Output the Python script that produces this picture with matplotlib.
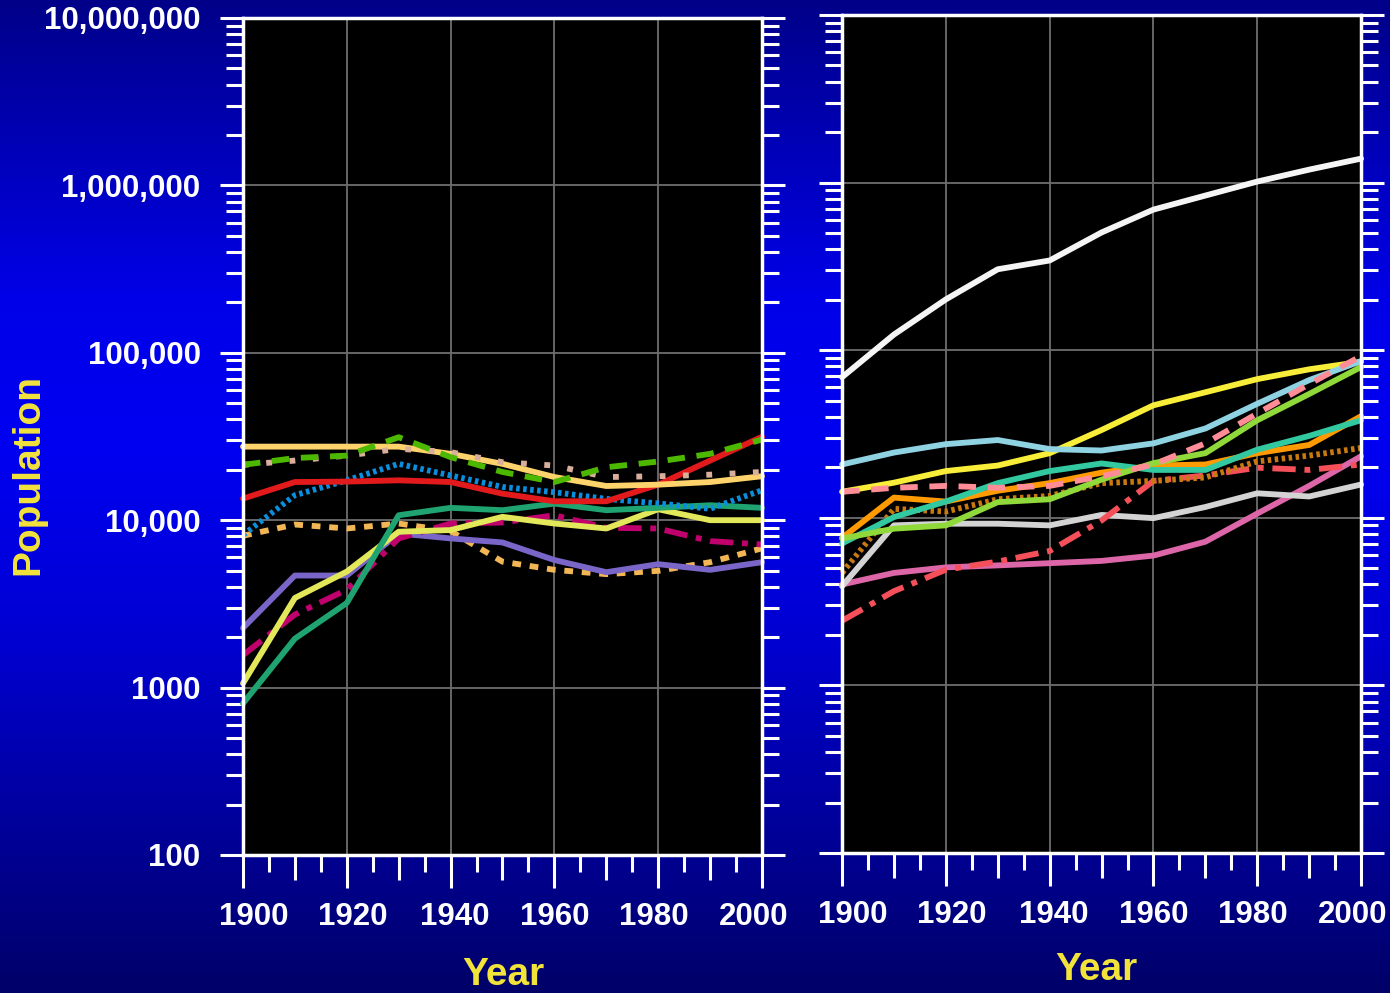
import numpy as np
import matplotlib.pyplot as plt
from matplotlib.ticker import FixedLocator, LogLocator, NullFormatter
from matplotlib.transforms import ScaledTranslation

plt.rcParams['font.family'] = ['Liberation Sans', 'DejaVu Sans']

years = [1900, 1910, 1920, 1930, 1940, 1950, 1960, 1970, 1980, 1990, 2000]

# left panel series
left_gold = [27500, 27500, 27500, 27500, 24900, 21700, 18100, 16000, 16300, 16900, 18300]
left_green_dash = [21400, 23500, 24300, 31300, 23800, 19400, 16900, 20700, 22400, 24900, 30300]
left_tan_dot = [21400, 22700, 24300, 26700, 25500, 22200, 21200, 18100, 18300, 18700, 19400]
left_red = [13450, 16900, 17000, 17300, 16900, 14400, 12970, 12970, 16300, 22700, 31500]
left_blue_dot = [8150, 14100, 17300, 21700, 18500, 15800, 14700, 13400, 12600, 11700, 15100]
left_teal = [804, 1960, 3200, 10700, 11850, 11470, 12560, 11470, 11850, 12280, 11850]
left_lime = [1060, 3430, 4930, 8530, 8730, 10470, 9550, 8920, 11620, 10000, 10000]
left_magenta = [1563, 2730, 3840, 7780, 9550, 9690, 10700, 9000, 8920, 7500, 7160]
left_purple = [2270, 4670, 4670, 8330, 7780, 7360, 5780, 4890, 5460, 5050, 5610]
left_orange_dot = [8070, 9420, 8920, 9550, 8600, 5650, 5050, 4760, 4980, 5610, 6790]

# right panel series
right_white = [69000, 124000, 201000, 304000, 343000, 504000, 690000, 837000, 1014000, 1195000, 1390000]
right_sky = [20800, 24500, 27500, 29100, 25700, 25200, 27800, 34100, 47900, 66300, 86100]
right_yellow = [14300, 16200, 19000, 20500, 24300, 33400, 46900, 56100, 67200, 76900, 85300]
right_pink_dash = [14300, 15100, 15500, 15100, 15500, 17700, 20800, 27800, 41900, 62800, 92200]
right_green = [7520, 8610, 9010, 12400, 12900, 16900, 21200, 24300, 38200, 54800, 79400]
right_orange = [7590, 13200, 12500, 14500, 16100, 18600, 20500, 20800, 24300, 27200, 40400]
right_teal = [7030, 10100, 12500, 16100, 19000, 21100, 19300, 19300, 25500, 30800, 38200]
right_brown_dot = [4690, 11300, 10900, 12900, 13500, 16100, 16600, 17400, 21700, 23500, 26100]
right_coral = [2430, 3650, 4900, 5480, 6340, 9640, 16600, 17900, 19900, 19300, 20800]
right_silver = [3910, 9010, 9220, 9220, 9010, 10400, 9950, 11600, 14000, 13400, 15800]
right_rose = [4000, 4690, 5060, 5200, 5360, 5530, 5950, 7200, 10600, 15500, 23300]

ytick_vals = [100, 1000, 10000, 100000, 1000000, 10000000]
ytick_labels = ['100', '1000', '10,000', '100,000', '1,000,000', '10,000,000']
xtick_vals = [1900, 1920, 1940, 1960, 1980, 2000]
# the year labels sit a bit inward from their ticks in the original
xlabel_shift_px = [11, 6, 4, 0, -4, -8]

solid = '-'
dash = (0, (3, 2))
sparse_dot = (0, (1, 3))
dense_dot = (0, (0.6, 0.6))
square_dot = (0, (1.5, 1.5))
dash_dot = (0, (4, 1.5, 1, 1.5))

left_lines = [
    (left_orange_dot, '#F2B655', square_dot),
    (left_purple, '#7A66C8', solid),
    (left_magenta, '#C0006C', dash_dot),
    (left_lime, '#E3E85A', solid),
    (left_teal, '#1FA370', solid),
    (left_blue_dot, '#0A8FE0', dense_dot),
    (left_red, '#E31A1C', solid),
    (left_gold, '#FFD36B', solid),
    (left_tan_dot, '#D9AE9A', sparse_dot),
    (left_green_dash, '#4DB800', dash),
]
right_lines = [
    (right_rose, '#DD66A8', solid),
    (right_silver, '#D3D3D3', solid),
    (right_coral, '#F5505A', dash_dot),
    (right_brown_dot, '#C87A10', dense_dot),
    (right_orange, '#FF9A00', solid),
    (right_teal, '#33C9A0', solid),
    (right_green, '#8FD93A', solid),
    (right_yellow, '#F8EE3A', solid),
    (right_sky, '#8FD3E3', solid),
    (right_pink_dash, '#FF8C96', dash),
    (right_white, '#F5F5F5', solid),
]

fig = plt.figure(figsize=(13.9, 9.93), dpi=100)

# gradient background
bg = fig.add_axes([0, 0, 1, 1], zorder=-10)
pos = np.linspace(0, 1, 993)
blue = np.interp(pos, [0, 0.3, 0.45, 0.65, 1.0], [0x88, 0xE8, 0xF2, 0xD0, 0x68]) / 255
img = np.zeros((993, 2, 3))
img[:, :, 2] = blue[:, None]
bg.imshow(img, aspect='auto', extent=[0, 1, 0, 1])
bg.axis('off')


def style_axes(ax, show_ylabels):
    ax.set_facecolor('black')
    ax.set_yscale('log')
    ax.set_ylim(100, 1e7)
    ax.set_xlim(1900, 2000)
    ax.yaxis.set_major_locator(FixedLocator(ytick_vals))
    ax.yaxis.set_minor_locator(LogLocator(subs=range(2, 10), numticks=20))
    ax.yaxis.set_minor_formatter(NullFormatter())
    if show_ylabels:
        ax.set_yticklabels(ytick_labels)
    else:
        ax.set_yticklabels([])
    ax.set_xticks(xtick_vals)
    ax.set_xticks(range(1910, 2000, 20), minor=True)
    ax.tick_params(axis='y', which='major', direction='out', length=16.5, width=2.2,
                   color='white', left=True, right=True, labelcolor='white',
                   labelsize=22.5, pad=14)
    ax.tick_params(axis='y', which='minor', direction='out', length=12, width=2.2,
                   color='white', left=True, right=True)
    ax.tick_params(axis='x', which='major', direction='out', length=24, width=2.2,
                   color='white', labelcolor='white', labelsize=22.5, pad=10)
    ax.tick_params(axis='x', which='minor', direction='out', length=18, width=2.2,
                   color='white')
    for lab in ax.get_xticklabels() + ax.get_yticklabels():
        lab.set_fontweight('bold')
    for lab, dx in zip(ax.get_xticklabels(), xlabel_shift_px):
        lab.set_transform(lab.get_transform() + ScaledTranslation(dx / 100, 0, fig.dpi_scale_trans))
    sec = ax.secondary_xaxis('bottom')
    sec.set_xticks(range(1905, 2000, 10))
    sec.tick_params(direction='out', length=12, width=2.2, color='white', labelbottom=False)
    sec.spines['bottom'].set_visible(False)
    for sp in ax.spines.values():
        sp.set_color('white')
        sp.set_linewidth(2.5)
    ax.grid(True, which='major', color='#6e6e6e', lw=1.3)
    ax.set_axisbelow(True)


ax1 = fig.add_axes([0.1748, 0.139, 0.3734, 0.8429])
ax2 = fig.add_axes([0.6058, 0.141, 0.3734, 0.8439])
style_axes(ax1, True)
style_axes(ax2, False)

for vals, col, ls in left_lines:
    ax1.plot(years, vals, color=col, ls=ls, lw=4.2, solid_capstyle='round', clip_on=False)
for vals, col, ls in right_lines:
    ax2.plot(years, vals, color=col, ls=ls, lw=4.2, solid_capstyle='round', clip_on=False)

yellow = '#F2E33B'
fig.text(0.0201, 0.5217, 'Population', rotation=90, ha='center', va='center',
         color=yellow, fontsize=28, fontweight='bold')
fig.text(0.3619, 0.0181, 'Year', ha='center', va='center', color=yellow,
         fontsize=28, fontweight='bold')
fig.text(0.789, 0.0232, 'Year', ha='center', va='center', color=yellow,
         fontsize=28, fontweight='bold')

fig.savefig('out.png', dpi=100)
